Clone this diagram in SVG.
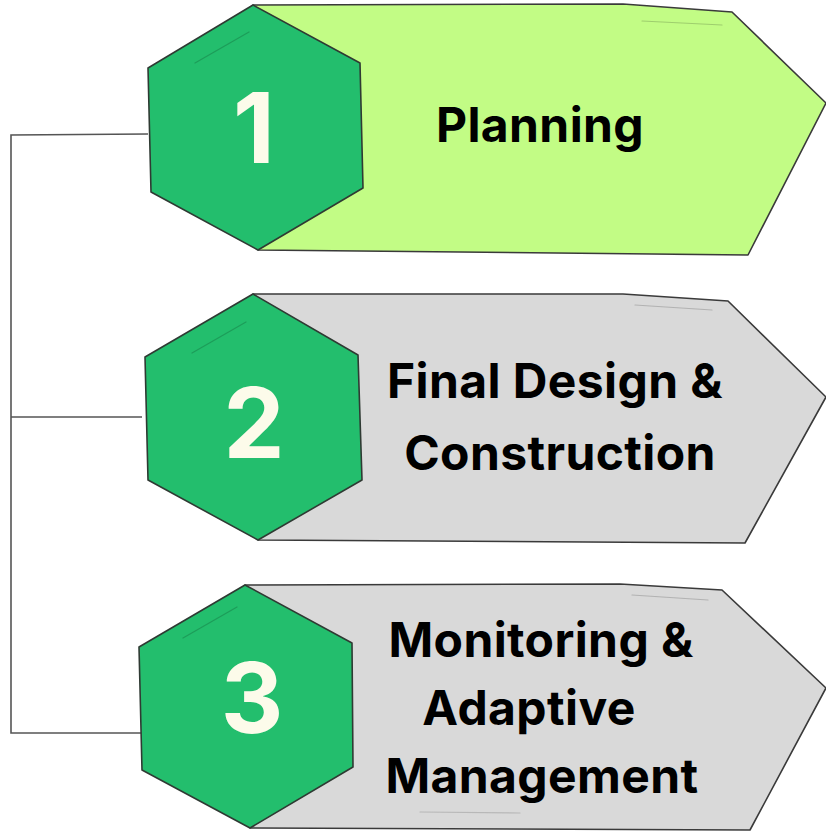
<svg xmlns="http://www.w3.org/2000/svg" width="826" height="832" viewBox="0 0 826 832">
<style>
.hex{fill:#23BE6D;stroke:#2f3a33;stroke-width:1.6;stroke-linejoin:round}
.ban1{fill:#C2FC85;stroke:#3a3a3a;stroke-width:1.6;stroke-linejoin:round}
.ban{fill:#D9D9D9;stroke:#3a3a3a;stroke-width:1.6;stroke-linejoin:round}
.num{font-family:Inter,"Open Sans","Liberation Sans",sans-serif;font-weight:700;font-size:97px;fill:#FCFBEA;text-anchor:middle}
.lbl{font-family:Inter,"Open Sans","Liberation Sans",sans-serif;font-weight:700;font-size:48px;letter-spacing:0.4px;fill:#000;text-anchor:middle}
.conn{fill:none;stroke:#555;stroke-width:1.6}
.sk{fill:none;stroke-width:1.2;stroke-linecap:round;opacity:0.4}
</style>
<g id="connectors">
<path class="conn" d="M148 134 L11 135 L11 733 L141 733 M11 417 L142 417"/>
</g>
<g id="step1">
<path class="ban1" d="M253 5 L623 4 L732 12 L826 103 L748 255 L258 250 Z"/>
<path class="sk" stroke="#6a8a4a" d="M642 21 L722 25"/>
<path class="hex" d="M253 5 L360 63 L363 188 L258 250 L151 192 L148 68 Z"/>
<path class="sk" stroke="#146b3d" d="M195 63 L249 32"/>
<text class="num" x="254" y="163">1</text>
<text class="lbl" x="540" y="142">Planning</text>
</g>
<g id="step2">
<path class="ban" d="M253 294 L623 294 L728 301 L826 397 L745 543 L258 540 Z"/>
<path class="sk" stroke="#777" d="M635 305 L712 310"/>
<path class="hex" d="M253 294 L358 355 L362 480 L258 540 L148 480 L145 357 Z"/>
<path class="sk" stroke="#146b3d" d="M192 353 L246 322"/>
<text class="num" x="254" y="458">2</text>
<text class="lbl" x="555" y="398">Final Design &amp;</text>
<text class="lbl" x="560" y="470">Construction</text>
</g>
<g id="step3">
<path class="ban" d="M245 585 L620 584 L722 590 L826 688 L750 830 L250 828 Z"/>
<path class="sk" stroke="#777" d="M632 595 L708 600"/>
<path class="sk" stroke="#888" d="M420 812 L520 813"/>
<path class="hex" d="M245 585 L352 643 L353 767 L250 828 L142 770 L139 647 Z"/>
<path class="sk" stroke="#146b3d" d="M183 638 L237 607"/>
<text class="num" x="252" y="733">3</text>
<text class="lbl" x="541" y="657">Monitoring &amp;</text>
<text class="lbl" x="529" y="725">Adaptive</text>
<text class="lbl" x="542" y="793">Management</text>
</g>
</svg>
